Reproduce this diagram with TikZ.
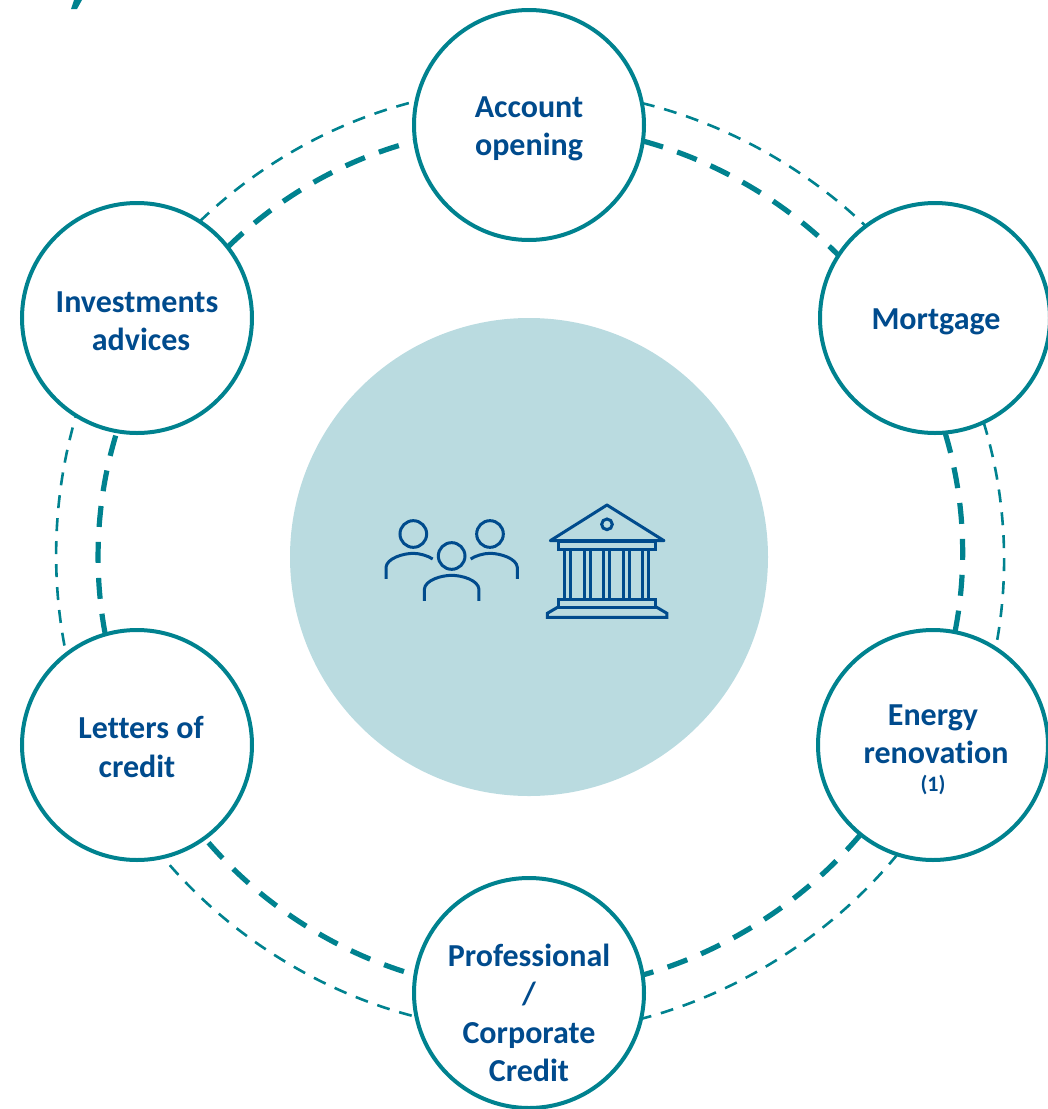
\documentclass[tikz,border=0pt]{standalone}
\usepackage{fontspec}
\setmainfont{Carlito}[Ligatures=NoCommon]
\definecolor{teal1}{HTML}{00828F}
\definecolor{navy1}{HTML}{004B8D}
\definecolor{pale1}{HTML}{BADBE0}
\tikzset{
  stage/.style={circle,draw=teal1,line width=4pt,fill=white,minimum size=230pt,inner sep=0pt,outer sep=0pt},
  stagetext/.style={inner sep=0pt,outer sep=0pt,align=center,text=navy1,font=\fontsize{32}{38.5}\selectfont\bfseries},
  thinlink/.style={draw=teal1,line width=2.6pt,dash pattern=on 13pt off 10pt,looseness=0.86},
  thicklink/.style={draw=teal1,line width=5.2pt,dash pattern=on 21pt off 15pt,looseness=0.86},
  icon/.style={draw=navy1,line width=3pt},
}
\begin{document}
\begin{tikzpicture}[x=1pt,y=-1pt]
\useasboundingbox (0,0) rectangle (1048,1109);
\fill[teal1] (74,0) -- (82,0) -- (77,9) -- (71,9) -- cycle;
\node[circle,fill=pale1,minimum size=478pt,inner sep=0pt] (hub) at (529,557) {};
\node[stage,label={[stagetext,yshift=-4pt]center:{Account\\opening}}] (open) at (529,125) {};
\node[stage,label={[stagetext,yshift=-4pt,xshift=1pt]center:{Mortgage}}] (mort) at (935,318) {};
\node[stage,label={[stagetext,yshift=-4.5pt]center:{Energy\\\hspace*{6pt}renovation\\[-11pt]{\fontsize{22}{22}\selectfont (1)}}}] (ener) at (933,745) {};
\node[stage,label={[stagetext,yshift=-20pt]center:{Professional\\/\\Corporate\\Credit}}] (prof) at (529,993) {};
\node[stage,label={[stagetext,yshift=-2pt]center:{\hspace*{8pt}Letters of\\credit}}] (lett) at (137,745) {};
\node[stage,label={[stagetext,yshift=-3pt]center:{Investments\\\hspace*{8pt}advices}}] (inve) at (137,318) {};
% outer thin arcs
\draw[thinlink] (open.11.6) to[bend left=15] (mort.127.6);
\draw[thinlink] (mort.-65.6) to[bend left=14] (ener.57.8);
\draw[thinlink] (ener.-108.7) to[bend left=18] (prof.-13);
\draw[thinlink,dash phase=18pt] (prof.192.3) to[bend left=18] (lett.-77);
\draw[thinlink,dash phase=14pt] (lett.128) to[bend left=14] (inve.-122);
\draw[thinlink] (inve.57.6) to[bend left=15] (open.168.6);
% inner thick arcs
\draw[thicklink] (open.-8.3) to[bend left=15] (mort.147);
\draw[thicklink] (mort.-85.6) to[bend left=14] (ener.79);
\draw[thicklink] (ener.-129.8) to[bend left=17] (prof.9.9);
\draw[thicklink,dash phase=24pt] (prof.171) to[bend left=17] (lett.-54.8);
\draw[thicklink] (lett.106.5) to[bend left=14] (inve.-100);
\draw[thicklink] (inve.38) to[bend left=15] (open.188.3);
% icons
\begin{scope}[shift={(360,480)},x=0.3333pt,y=-0.3333pt]
 \draw[icon] (160,162) circle[radius=40];
 \draw[icon] (390,162) circle[radius=40];
 \draw[icon] (275,228) circle[radius=40];
 \draw[icon] (78,297) -- (78,262) .. controls (80,235) and (130,220) .. (160,220) .. controls (180,220) and (205,228) .. (218,237);
 \draw[icon] (472,297) -- (472,262) .. controls (470,235) and (420,220) .. (390,220) .. controls (370,220) and (345,228) .. (332,237);
 \draw[icon] (193,363) -- (193,328) .. controls (195,300) and (245,286) .. (275,286) .. controls (305,286) and (355,300) .. (357,328) -- (357,363);
 \draw[icon,line join=round] (571,182) -- (741,75) -- (912,182) -- cycle;
 \draw[icon] (741,133) circle[radius=16];
 \draw[icon] (596,185) rectangle (887,207);
 \foreach \cx in {615,632,674,692,732,750,790,808,848,866} \draw[icon] (\cx,207) -- (\cx,360);
 \draw[icon] (596,360) rectangle (887,384);
 \draw[icon] (596,380) -- (562,400) -- (562,412) -- (921,412) -- (921,400) -- (887,380);
\end{scope}
\end{tikzpicture}
\end{document}
